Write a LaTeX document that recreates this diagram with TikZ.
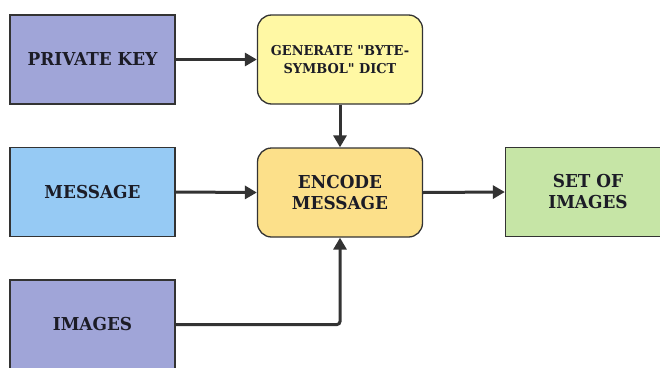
\documentclass[tikz,border=0pt]{standalone}
\usepackage{fontspec}
\setmainfont{DejaVu Serif}
\newfontfamily\dvs{DejaVu Serif}
\usepackage{graphicx}
\usetikzlibrary{arrows.meta}
\definecolor{pkfill}{HTML}{A0A5D8}
\definecolor{msgfill}{HTML}{96CAF4}
\definecolor{genfill}{HTML}{FFF8A4}
\definecolor{encfill}{HTML}{FCE08A}
\definecolor{setfill}{HTML}{C6E5A6}
\definecolor{edge}{HTML}{333333}
\definecolor{txt}{HTML}{1C1C26}
\newcommand{\dq}{\symbol{34}}
\newcommand{\nx}[1]{\scalebox{0.95}[1]{#1}}
\tikzset{
  plainbox/.style={draw=edge, line width=1.3pt, minimum width=165pt, minimum height=89pt,
    inner sep=0pt, align=center, text=txt, font=\dvs\fontsize{17.8}{21}\selectfont\bfseries},
  roundbox/.style={plainbox, rounded corners=14pt},
  flow/.style={draw=edge, line width=3pt, -{Triangle[length=12pt,width=13pt]}},
}
\begin{document}
\begin{tikzpicture}[x=1pt,y=-1pt]
\useasboundingbox (0,0) rectangle (660,367);
\node[plainbox, fill=pkfill] (pk) at (92.5,59.5) {\nx{PRIVATE KEY}};
\node[roundbox, fill=genfill, font=\dvs\fontsize{13.6}{18}\selectfont\bfseries] (gen) at (340,59.5) {\nx{GENERATE \dq BYTE-}\\\nx{SYMBOL\dq{} DICT}};
\node[plainbox, fill=msgfill] (msg) at (92.5,192) {\nx{MESSAGE}};
\node[roundbox, fill=encfill] (enc) at (340,192.5) {\nx{ENCODE}\\\nx{MESSAGE}};
\node[plainbox, fill=setfill] (set) at (588,192) {\nx{SET OF}\\\nx{IMAGES}};
\node[plainbox, fill=pkfill] (img) at (92.5,324.5) {\nx{IMAGES}};
\draw[flow] (pk.east) -- (gen.west);
\draw[flow] (gen.south) -- (enc.north);
\draw[flow] (msg.east) -- (enc.west);
\draw[flow] (enc.east) -- (set.west);
\draw[flow, rounded corners=3pt] (img.east) -| (enc.south);
\end{tikzpicture}
\end{document}
